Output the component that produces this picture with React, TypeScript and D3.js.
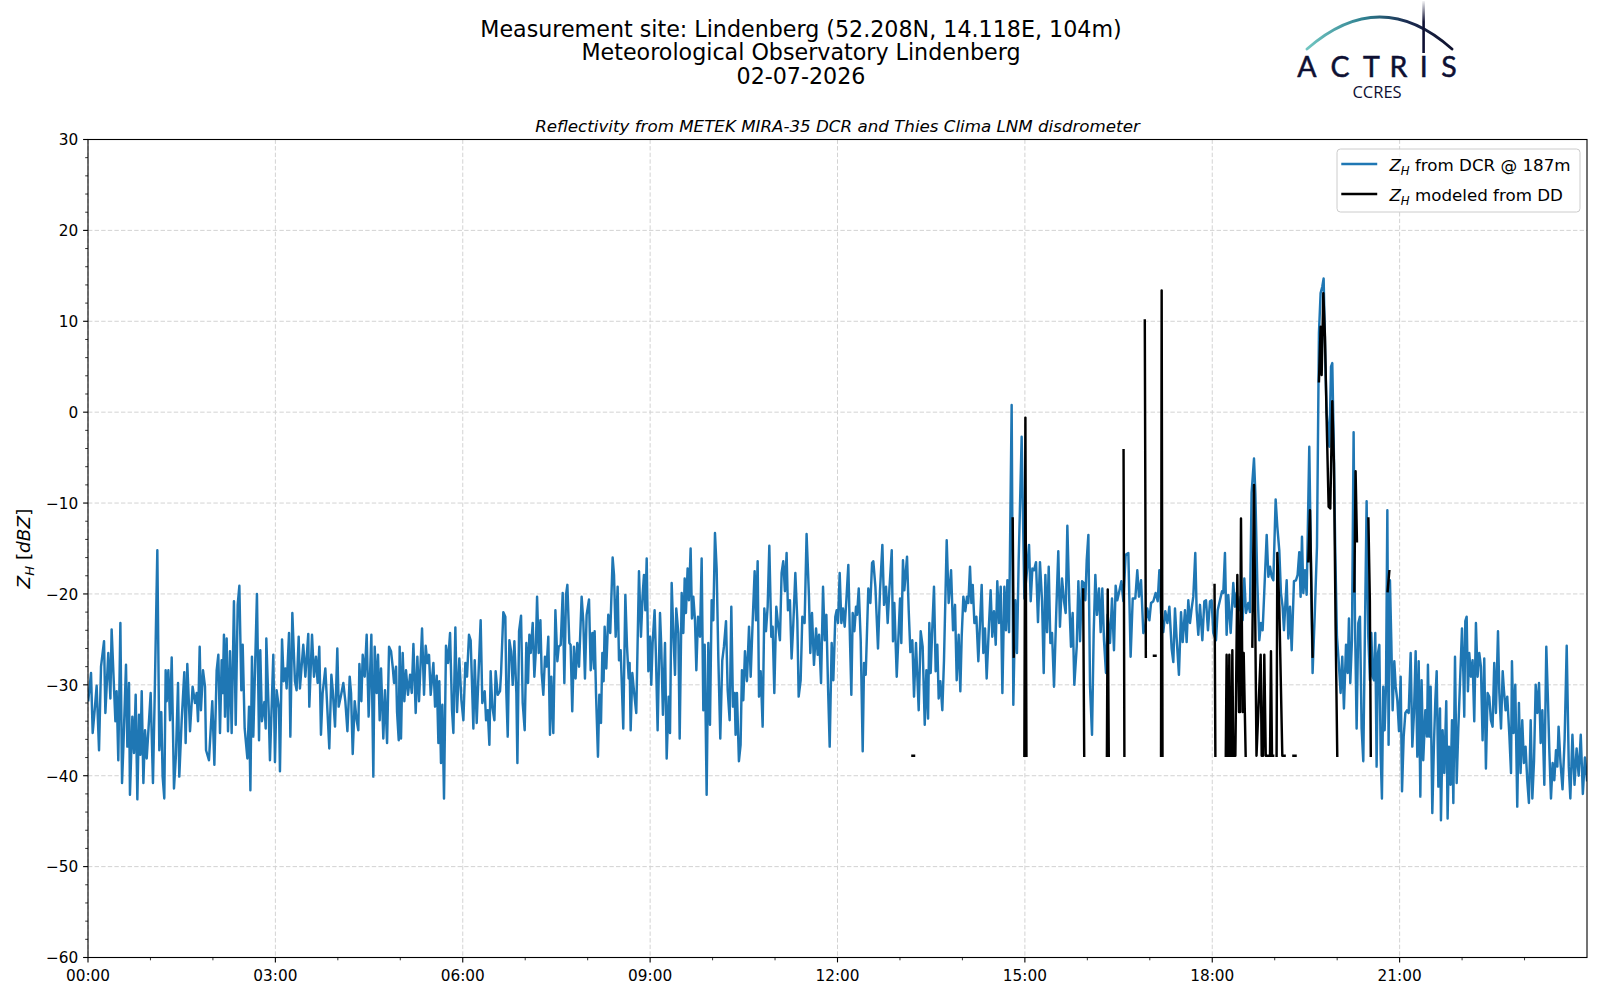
import React from 'react';
import * as d3 from 'd3';

const W = 1600;
const H = 1000;
const PLOT = { left: 88, right: 1587, top: 139.5, bottom: 957.5 };

const titleLines = [
  'Measurement site: Lindenberg (52.208N, 14.118E, 104m)',
  'Meteorological Observatory Lindenberg',
  '02-07-2026',
];
const subtitle = 'Reflectivity from METEK MIRA-35 DCR and Thies Clima LNM disdrometer';

const xMajorHours = [0, 3, 6, 9, 12, 15, 18, 21];
const xMajorLabels = ['00:00', '03:00', '06:00', '09:00', '12:00', '15:00', '18:00', '21:00'];
const xMinorHours = [1, 2, 4, 5, 7, 8, 10, 11, 13, 14, 16, 17, 19, 20, 22, 23];
const yMajor = [-60, -50, -40, -30, -20, -10, 0, 10, 20, 30];

// Z_H from DCR @ 187m : [minutes since 00:00, dBZ]
const dcrSeries: [number, number][] = [
  [0.3,-31.7],[2.9,-28.7],[4.5,-35.3],[6.7,-32.4],[8.3,-30.1],[10.6,-37.2],[12.5,-28.0],[15.4,-25.2],[16.7,-33.1],[19.5,-26.5],
  [21.5,-31.5],[22.7,-23.9],[26.3,-34.0],[27.5,-30.7],[29.1,-38.3],[31.1,-23.2],[32.7,-40.8],[34.0,-36.8],[36.5,-27.8],[37.8,-36.8],
  [39.4,-29.8],[40.3,-42.1],[42.6,-33.5],[44.2,-37.5],[45.8,-31.1],[47.4,-42.6],[49.0,-33.3],[50.3,-37.7],[51.6,-30.7],[53.2,-40.8],
  [54.8,-35.0],[56.4,-38.1],[60.2,-30.9],[62.4,-40.8],[64.0,-31.7],[66.6,-15.2],[68.5,-37.2],[70.4,-33.0],[71.7,-40.1],[73.3,-42.5],
  [74.6,-28.4],[75.6,-31.8],[77.2,-28.4],[78.8,-33.9],[80.4,-27.0],[82.6,-41.4],[84.5,-37.7],[86.5,-29.8],[87.7,-40.1],[90.0,-33.9],
  [92.5,-28.6],[93.8,-36.4],[95.4,-27.7],[98.0,-35.1],[100.5,-30.2],[102.8,-32.0],[104.4,-30.9],[105.7,-34.0],[107.3,-25.8],[108.5,-32.8],
  [110.5,-28.4],[112.4,-30.2],[113.4,-37.2],[116.2,-38.3],[119.4,-31.8],[121.4,-38.8],[123.6,-28.4],[125.2,-26.7],[126.8,-35.3],[128.4,-27.3],
  [129.4,-30.9],[130.6,-24.5],[131.6,-33.5],[133.2,-24.9],[134.5,-35.1],[136.4,-26.3],[138.0,-35.3],[140.2,-20.8],[141.9,-34.4],[143.8,-21.2],
  [145.4,-19.1],[147.3,-30.6],[148.6,-25.6],[150.5,-34.8],[153.1,-38.1],[154.7,-32.4],[156.0,-41.6],[157.5,-26.9],[158.8,-35.7],[162.3,-20.0],
  [164.3,-36.1],[165.5,-26.2],[167.1,-34.0],[169.4,-31.9],[170.7,-34.8],[171.3,-24.9],[173.6,-33.0],[174.8,-38.3],[178.0,-26.7],[179.6,-38.5],
  [181.2,-30.6],[183.5,-32.6],[184.4,-39.5],[186.4,-25.0],[188.0,-29.6],[189.6,-28.2],[190.8,-30.4],[193.1,-24.3],[194.4,-35.7],[196.3,-22.1],
  [198.8,-29.6],[200.4,-30.6],[202.4,-24.7],[203.6,-30.4],[206.8,-25.6],[208.8,-29.1],[211.6,-24.4],[212.6,-32.4],[215.2,-24.5],[217.1,-29.1],
  [219.0,-26.9],[220.6,-29.8],[222.2,-25.8],[223.8,-35.5],[225.4,-30.9],[228.0,-28.2],[231.8,-37.0],
  [233.8,-28.9],[235.1,-30.6],[237.3,-34.6],[239.5,-26.0],[240.8,-32.4],[242.8,-31.3],[245.3,-29.8],[247.2,-31.8],[249.2,-35.1],[251.4,-29.1],
  [252.7,-30.9],[254.3,-37.6],[256.2,-31.8],[258.1,-33.9],[259.7,-35.0],[260.7,-27.7],[262.6,-31.8],[263.9,-26.7],[265.8,-29.1],[267.7,-24.5],
  [269.6,-33.5],[272.2,-24.5],[274.1,-40.1],[275.4,-25.8],[277.3,-30.9],[278.6,-26.7],[280.2,-33.9],[281.5,-28.2],[283.7,-35.9],[285.3,-30.6],
  [287.3,-36.4],[289.2,-25.8],[291.1,-26.3],[292.7,-28.0],[294.0,-29.8],[295.9,-28.0],[296.9,-33.0],[298.5,-36.1],[299.4,-25.8],[300.7,-35.9],
  [302.3,-26.5],[303.9,-31.8],[305.5,-28.4],[307.4,-31.1],[309.4,-28.9],[311.0,-30.9],[312.6,-25.5],[314.8,-33.1],[316.4,-26.9],[318.0,-31.8],
  [320.9,-23.8],[322.8,-31.1],[324.4,-25.7],[326.0,-27.6],[327.6,-26.7],[329.2,-31.1],[331.8,-27.6],[333.4,-32.4],[335.0,-29.0],[336.6,-36.4],
  [337.5,-29.6],[339.1,-38.6],[340.4,-32.2],[342.0,-42.5],[343.9,-25.7],[345.9,-27.6],[347.8,-24.3],[349.7,-32.8],[351.0,-35.3],[352.9,-23.7],
  [354.5,-33.0],[356.7,-27.1],[358.7,-31.7],[360.6,-33.9],[362.5,-27.6],[364.1,-29.1],[366.0,-24.5],[367.6,-25.1],[370.2,-34.8],[371.5,-27.3],
  [373.4,-34.2],[375.3,-28.4],[377.2,-22.9],[378.8,-32.0],[381.1,-30.7],[382.4,-33.9],[384.0,-32.8],[385.6,-36.6],[386.8,-28.5],[388.4,-32.4],
  [390.4,-33.9],[391.6,-28.5],[393.6,-31.1],[395.8,-30.7],[396.8,-28.7],[399.0,-22.0],[400.9,-22.5],[401.9,-30.9],[403.2,-35.7],[404.8,-25.1],
  [406.4,-26.3],[408.0,-30.0],[409.6,-25.2],[411.5,-30.9],[412.5,-38.6],[414.1,-24.1],[416.0,-22.4],[417.6,-32.0],[419.5,-35.0],[421.1,-25.4],
  [422.7,-29.8],[424.0,-24.5],[425.3,-26.5],[427.2,-23.2],[428.8,-29.1],[430.1,-26.5],[431.4,-20.3],[433.0,-26.5],[434.6,-22.9],[435.8,-28.7],
  [437.4,-31.1],[439.0,-26.9],[440.6,-28.0],[442.2,-24.7],[443.8,-35.5],[445.1,-29.1],[447.0,-35.3],[449.0,-21.8],[450.9,-27.4],[452.2,-25.8],
  [454.1,-25.6],[456.0,-19.9],[457.6,-29.8],[459.2,-20.1],[460.5,-19.0],[462.4,-25.4],
  [463.6,-25.6],[465.2,-32.9],[466.8,-25.8],[468.4,-29.3],[470.0,-25.4],[471.7,-28.0],[474.2,-20.3],[475.8,-23.0],[477.4,-29.3],[479.0,-22.3],
  [481.3,-20.6],[482.9,-28.4],[484.5,-24.3],[486.1,-28.2],[486.7,-24.1],[488.0,-30.9],[489.9,-37.9],[491.2,-31.1],[492.8,-34.2],[494.1,-26.5],
  [495.3,-29.6],[496.3,-23.6],[497.9,-28.2],[499.8,-22.3],[501.7,-24.3],[504.0,-16.0],[505.3,-17.9],[506.9,-24.7],[508.8,-19.2],[510.1,-27.3],
  [511.7,-26.2],[514.2,-34.8],[516.2,-20.1],[517.8,-25.8],[519.4,-29.3],[520.3,-27.6],[521.3,-35.0],[522.9,-28.7],[524.5,-30.7],[526.7,-33.1],
  [529.3,-17.5],[531.2,-24.7],[532.8,-20.1],[534.1,-17.9],[535.4,-21.8],[536.7,-16.1],[538.3,-28.5],[539.9,-24.7],[541.1,-30.0],[542.4,-25.4],
  [544.3,-21.8],[545.6,-26.9],[547.2,-35.0],[549.5,-22.1],[550.7,-25.8],[552.3,-33.3],[554.3,-25.4],[555.9,-38.1],[557.8,-31.3],[559.1,-35.3],
  [560.7,-18.8],[562.3,-24.3],[563.9,-28.9],[565.1,-21.6],[567.1,-24.3],[568.4,-35.9],[570.3,-19.9],[571.9,-24.3],[573.2,-18.3],[574.4,-22.1],
  [576.0,-17.2],[577.3,-20.7],[578.9,-15.0],[580.2,-22.7],[581.5,-20.3],[583.1,-22.9],[584.4,-28.4],[586.0,-22.5],[587.9,-24.7],[589.5,-16.1],
  [591.1,-32.8],[592.4,-25.6],[594.3,-42.1],[595.9,-25.4],[597.5,-34.4],[599.1,-20.7],[600.7,-22.9],[602.3,-13.3],[603.9,-17.2],[605.5,-26.9],
  [607.4,-35.9],[609.3,-27.3],[610.9,-25.8],[612.9,-23.0],[614.5,-30.6],[616.4,-33.9],[618.0,-21.4],[619.6,-32.4],[621.2,-30.9],[622.1,-35.5],
  [623.4,-30.9],[625.3,-38.4],[626.9,-36.6],[628.2,-28.4],[629.5,-31.7],[631.1,-26.3],[633.0,-29.6],[635.0,-23.6],[636.6,-29.1],[638.5,-23.0],
  [640.4,-17.5],[641.7,-22.9],[643.3,-16.4],[644.6,-31.3],[646.2,-28.5],[648.1,-34.6],[649.7,-21.6],[651.3,-24.1],[652.9,-21.4],[654.5,-14.7],
  [656.4,-24.7],[657.7,-23.6],[659.3,-30.9],[661.2,-21.4],[663.1,-23.6],[664.7,-25.1],[666.3,-17.7],[667.9,-16.4],[669.5,-19.7],[671.1,-15.5],
  [672.4,-21.8],[674.3,-20.7],[675.9,-27.1],[677.5,-23.4],[679.5,-17.7],[681.4,-22.9],[682.7,-31.3],[684.6,-29.5],[686.2,-22.5],[688.4,-23.2],
  [690.3,-13.4],
  [692.6,-20.3],[693.9,-26.5],[695.5,-22.1],[697.4,-27.8],[699.4,-23.8],[701.0,-26.7],[702.3,-24.5],[704.2,-29.8],[706.1,-19.2],[707.7,-25.1],
  [709.3,-22.3],[710.9,-30.2],[712.5,-36.8],[714.4,-25.4],[716.0,-29.5],[717.9,-22.5],[719.2,-21.8],[720.5,-23.2],[722.1,-17.7],[723.7,-23.2],
  [725.3,-21.6],[726.9,-23.6],[728.5,-20.7],[730.4,-16.8],[732.0,-25.1],[733.3,-31.1],[734.6,-22.1],[736.2,-24.1],[737.8,-21.4],[738.8,-22.3],
  [740.4,-19.4],[742.3,-25.1],[744.2,-37.3],[745.5,-27.6],[747.1,-28.9],[749.6,-19.4],[751.6,-21.0],[753.2,-16.6],[754.4,-16.4],[756.4,-19.2],
  [758.9,-26.0],[760.8,-19.7],[763.1,-14.6],[764.7,-21.2],[766.6,-19.2],[768.2,-23.2],[769.8,-19.6],[772.1,-15.2],[773.3,-25.2],[774.6,-21.0],
  [776.9,-29.1],[778.8,-24.0],[780.1,-20.5],[781.3,-25.4],[782.9,-16.3],[784.2,-19.6],[786.8,-15.9],[788.4,-21.8],[790.0,-26.4],[791.9,-25.1],
  [793.5,-31.3],[795.4,-25.4],[798.0,-32.8],[799.9,-24.1],[801.8,-25.8],[803.8,-34.4],[805.4,-28.4],[807.0,-33.7],[808.2,-23.2],[809.5,-28.7],
  [810.8,-24.5],[812.7,-19.2],[814.3,-28.5],[815.9,-25.6],[817.2,-31.5],[818.8,-29.6],[820.7,-32.8],[822.3,-27.3],[824.9,-14.1],[826.8,-21.0],
  [829.1,-17.4],[831.0,-24.0],[832.9,-21.2],[834.5,-29.5],[836.4,-24.5],[838.0,-30.7],[839.3,-24.7],[840.9,-20.3],[842.8,-21.9],[844.4,-20.3],
  [845.7,-21.0],[847.3,-17.0],[848.6,-21.0],[849.9,-19.0],[851.5,-23.2],[853.4,-22.5],[855.3,-27.4],
  [858.5,-19.0],[860.1,-26.5],[861.7,-23.8],[863.3,-29.3],[865.5,-23.4],[867.1,-19.6],[868.7,-24.7],[870.3,-21.9],[872.0,-25.6],[873.5,-18.6],
  [875.2,-23.2],[876.8,-19.2],[878.4,-30.9],[880.3,-19.2],[881.9,-24.0],[883.2,-18.5],[884.8,-24.2],[887.3,0.8],[888.9,-32.2],[890.8,-20.7],
  [892.4,-26.5],[894.0,-16.6],[896.9,-2.7],[899.5,-20.5],[902.0,-17.5],[904.0,-14.6],[905.6,-20.8],[907.2,-17.2],[908.8,-17.4],[910.7,-16.5],
  [912.6,-23.1],[914.5,-16.5],[916.5,-20.8],[918.1,-28.7],[919.7,-17.9],[921.3,-24.2],[922.9,-17.0],[924.5,-25.4],[926.1,-24.3],[928.0,-30.2],
  [930.2,-21.8],[932.1,-15.3],[933.7,-23.6],[935.7,-18.3],[937.6,-20.8],[939.2,-22.1],[940.8,-12.5],[942.7,-21.0],[944.3,-25.8],[945.9,-22.1],
  [947.5,-30.0],[949.8,-25.8],[951.4,-18.6],[953.0,-25.2],[954.9,-18.6],[956.8,-18.8],[958.1,-20.7],[959.4,-16.3],[961.0,-13.5],[962.6,-30.2],
  [964.5,-35.5],[966.1,-24.3],[967.7,-17.9],[969.3,-22.3],[971.2,-19.4],[972.8,-24.2],[974.4,-19.4],[976.0,-25.1],[977.9,-28.7],[979.5,-22.3],
  [981.8,-25.4],[983.7,-20.5],[985.6,-26.2],[987.2,-19.1],[988.8,-20.7],[990.7,-19.7],[992.7,-18.6],[994.6,-20.8],[996.8,-15.7],[999.4,-15.5],
  [1001.6,-26.9],[1003.6,-20.5],[1006.1,-20.5],[1008.0,-17.4],[1009.6,-20.3],[1011.6,-18.5],[1013.8,-24.3],[1015.7,-23.6],[1017.6,-21.6],[1019.6,-22.9],
  [1021.2,-21.0],[1023.4,-20.8],[1025.6,-19.9],[1027.6,-20.8],[1029.2,-17.4],[1030.8,-22.1],[1033.0,-24.2],[1034.9,-21.9],[1036.9,-23.2],[1038.8,-21.4],
  [1041.0,-26.0],[1042.6,-27.5],[1044.2,-21.6],[1045.8,-24.9],[1048.0,-28.9],[1050.0,-22.0],[1051.6,-25.3],[1053.8,-21.8],[1055.4,-25.3],[1057.0,-20.7],
  [1058.6,-23.2],[1060.2,-21.6],[1061.8,-20.3],[1063.7,-15.5],[1065.0,-21.8],[1066.6,-24.5],[1068.2,-21.2],[1070.5,-25.1],[1072.4,-20.8],[1074.0,-20.7],
  [1075.9,-24.0],[1077.8,-20.8],[1079.4,-20.7],[1081.0,-24.3],[1083.6,-25.1],[1085.2,-21.8],[1087.4,-20.7],[1089.4,-19.7],[1090.6,-19.9],[1092.2,-15.5],
  [1093.8,-24.5],[1095.4,-20.1],[1097.7,-24.3],[1100.2,-18.8],[1101.8,-21.4],[1103.4,-19.9],[1105.7,-21.8],[1107.3,-20.3],[1109.2,-22.9],[1110.8,-18.3],
  [1112.4,-22.1],[1114.6,-21.0],[1116.2,-22.0],[1117.8,-8.9],[1120.1,-5.1],[1121.4,-8.9],[1123.3,-18.8],[1125.2,-25.1],[1126.8,-23.2],[1128.4,-24.0],
  [1130.0,-19.7],[1132.3,-13.5],[1133.9,-18.1],[1135.5,-17.0],[1137.1,-18.1],[1138.7,-18.5],[1140.9,-9.6],[1142.5,-12.6],[1144.4,-15.2],[1146.0,-19.9],
  [1147.6,-21.4],[1148.9,-24.0],[1151.5,-18.5],[1153.1,-24.9],[1154.7,-21.4],[1156.3,-26.2],[1158.5,-18.6],[1160.4,-18.5],[1162.0,-17.9],[1163.6,-15.4],
  [1164.9,-20.3],[1166.2,-13.7],[1167.5,-19.9],[1169.1,-17.4],[1170.7,-20.1],[1173.2,-3.8],[1174.8,-16.3],[1176.4,-28.7],[1178.4,-22.5],[1180.6,-14.8],
  [1182.5,8.7],[1184.1,13.1],[1185.7,13.8],[1187.0,14.7],[1188.6,5.7],[1189.9,-0.1],[1192.5,-3.8],[1194.1,5.0],[1195.3,5.4],[1196.6,-2.7],
  [1198.2,-15.5],[1199.8,-24.7],[1201.4,-27.3],[1203.3,-30.9],[1204.9,-26.9],[1206.5,-32.6],[1208.5,-25.6],[1210.1,-28.7],[1211.3,-22.7],[1212.6,-29.8],
  [1214.2,-25.1],[1215.8,-2.2],
  [1217.1,-22.9],[1218.7,-34.8],[1220.3,-23.2],[1221.9,-22.5],[1223.5,-34.8],[1225.1,-38.4],[1226.7,-23.8],[1228.3,-9.8],[1229.9,-24.7],[1231.5,-29.5],
  [1232.8,-24.3],[1234.1,-29.1],[1235.4,-29.5],[1236.6,-24.3],[1237.9,-39.0],[1239.2,-26.5],[1240.5,-25.6],[1241.8,-37.7],[1243.0,-42.5],[1244.3,-30.2],
  [1245.6,-35.0],[1246.9,-30.2],[1248.2,-10.8],[1249.4,-36.6],[1250.7,-18.5],[1252.0,-25.1],[1253.3,-32.8],[1254.9,-27.4],[1256.2,-30.2],[1257.8,-31.7],
  [1259.4,-35.1],[1261.0,-29.1],[1262.3,-41.7],[1263.9,-35.7],[1265.5,-33.1],[1267.1,-32.8],[1268.7,-33.1],[1270.6,-26.5],[1272.2,-36.8],[1273.8,-33.1],
  [1275.4,-26.3],[1277.0,-37.9],[1278.3,-27.4],[1279.9,-42.3],[1281.1,-29.5],[1282.7,-38.3],[1284.7,-32.8],[1286.3,-35.7],[1287.2,-27.8],[1288.5,-35.7],
  [1289.8,-30.2],[1291.4,-44.1],[1293.0,-36.4],[1294.3,-31.7],[1295.6,-28.5],[1297.2,-41.2],[1298.8,-32.6],[1299.7,-44.9],[1301.3,-35.0],[1302.9,-39.7],
  [1304.8,-31.8],[1306.1,-44.7],[1307.4,-36.8],[1309.0,-41.0],[1310.3,-33.9],[1311.6,-43.0],[1313.2,-26.9],[1314.8,-40.8],[1316.4,-34.8],[1318.0,-29.8],
  [1319.9,-23.8],[1321.2,-28.7],[1322.1,-33.5],[1323.1,-23.0],[1324.4,-22.5],[1325.6,-30.7],[1326.9,-26.5],[1328.5,-29.1],[1330.1,-27.3],[1331.7,-34.0],
  [1333.3,-23.2],[1334.9,-29.1],[1336.5,-26.5],[1338.1,-28.0],[1339.7,-36.1],[1341.3,-27.1],[1342.9,-39.2],[1344.5,-30.9],[1346.1,-31.3],[1347.7,-33.9],
  [1349.3,-34.6],[1350.9,-27.6],[1352.5,-33.1],[1354.5,-24.1],[1355.8,-30.9],[1357.4,-34.8],[1359.0,-28.5],[1360.2,-30.6],[1361.8,-32.8],[1363.4,-31.3],
  [1365.4,-35.5],[1367.0,-39.7],[1367.9,-27.4],[1369.5,-35.3],[1371.1,-30.0],[1373.0,-43.4],[1374.6,-32.0],[1376.2,-39.7],[1377.8,-33.9],[1379.4,-38.6],
  [1381.0,-36.8],[1382.6,-40.5],[1384.2,-43.0],[1385.9,-33.9],[1387.5,-42.5],[1389.1,-38.4],[1390.7,-30.0],[1392.3,-33.1],[1393.9,-29.8],[1395.5,-36.4],
  [1397.1,-32.8],[1399.0,-41.0],[1400.9,-25.8],[1402.5,-31.7],[1403.8,-37.2],[1405.4,-42.5],[1407.0,-38.6],[1408.6,-40.5],[1410.2,-37.2],[1411.5,-39.0],
  [1412.7,-34.6],[1414.5,-38.5],[1416.5,-41.5],[1418.5,-36.0],[1420.5,-25.7],[1422.5,-39.0],[1424.0,-42.5],[1426.0,-35.5],[1428.0,-41.0],[1430.0,-37.0],
  [1432.0,-40.0],[1434.0,-35.5],[1436.0,-42.0],[1438.0,-38.0],[1440.0,-40.5],
];

// Z_H modeled from DD : [minutes since 00:00, dBZ or null for no data]
const ddSeries: [number, number | null][] = [
  [792.0,-37.8],[793.5,-37.8],[794.0,null],
  [888.3,-11.7],[889.3,-26.9],[890.0,null],
  [899.5,-37.8],[900.5,-0.6],[901.5,-37.8],[902.0,null],
  [956.0,-19.5],[957.0,-37.8],[957.5,null],
  [978.8,-37.8],[979.6,-19.5],[980.6,-37.8],[981.0,null],
  [994.8,-4.2],[995.6,-37.8],[996.0,null],
  [1015.2,10.1],[1016.2,-26.9],[1017.0,null],
  [1024.0,-26.8],[1025.5,-26.8],[1026.0,null],
  [1030.8,-37.8],[1031.4,13.4],[1032.2,-37.8],[1033.0,null],
  [1082.2,-19.0],[1083.0,-37.8],[1084.0,null],
  [1093.0,-37.8],[1093.8,-26.7],[1094.8,-37.8],[1095.8,-37.8],[1096.4,-26.7],[1097.2,-37.8],[1098.5,-37.8],[1099.3,-26.2],[1100.2,-37.8],
  [1102.2,-37.8],[1104.1,-17.9],[1105.7,-33.0],[1106.6,-33.0],[1107.6,-11.7],[1109.2,-33.0],[1110.2,-26.5],[1112.1,-37.8],[1113.0,null],
  [1118.5,-25.8],[1120.1,-8.0],[1122.5,-37.8],[1126.5,-26.7],[1127.5,-37.8],[1128.8,-37.8],[1130.0,-26.7],[1131.4,-37.8],[1134.0,-37.8],[1134.5,null],
  [1135.5,-37.8],[1136.4,-26.3],[1137.4,-37.8],[1138.5,-37.8],[1139.0,null],
  [1141.8,-37.8],[1142.5,-15.5],[1144.4,-21.4],[1147.3,-37.8],[1149.5,-37.8],[1150.0,null],
  [1158.0,-37.8],[1160.0,-37.8],[1160.5,null],
  [1172.3,-16.4],[1173.9,-10.8],[1176.4,-26.9],[1177.0,null],
  [1182.5,3.4],[1184.1,9.4],[1185.1,4.1],[1186.7,13.1],[1188.3,8.3],[1189.9,-0.9],[1191.8,-10.4],[1193.4,-10.6],[1195.3,1.2],[1196.9,-5.6],
  [1198.5,-23.6],[1200.1,-37.8],[1201.0,null],
  [1216.5,-19.7],[1217.7,-6.5],[1219.0,-14.2],[1219.5,null],
  [1230.0,-11.7],[1231.4,-20.7],[1232.3,-37.8],[1233.0,null],
  [1248.5,-19.7],[1250.1,-17.5],
];

const legendItems = [
  { color: '#1f77b4', text: ' from DCR @ 187m' },
  { color: '#000000', text: ' modeled from DD' },
];

const logoLetters = ['A', 'C', 'T', 'R', 'I', 'S'];

const FONT = "'DejaVu Sans', sans-serif";
const NAVY = '#0e1033';
const LW = 2.45;

export default function App() {
  const x = d3.scaleLinear().domain([0, 1440]).range([PLOT.left, PLOT.right]);
  const y = d3.scaleLinear().domain([-60, 30]).range([PLOT.bottom, PLOT.top]);
  const yMinor = d3.range(-60, 31, 2).filter((v) => v % 10 !== 0);
  const letterX = d3.scalePoint<string>().domain(logoLetters).range([1307, 1449]);
  const letterPos: Record<string, number> = { A: 1307, C: 1340, T: 1371.5, R: 1398.5, I: 1423.7, S: 1449 };

  const blueLine = d3
    .line<[number, number]>()
    .x((d) => x(d[0]))
    .y((d) => y(d[1]));
  const blackLine = d3
    .line<[number, number | null]>()
    .defined((d) => d[1] !== null)
    .x((d) => x(d[0]))
    .y((d) => y(d[1] as number));

  const gridColor = '#d3d3d3';
  const tickFs = 15.3;

  return (
    <div style={{ position: 'absolute', left: 0, top: 0 }}>
      <svg width={W} height={H} xmlns="http://www.w3.org/2000/svg" style={{ display: 'block', background: '#fff' }}>
        <defs>
          <clipPath id="plotClip">
            <rect x={PLOT.left} y={PLOT.top} width={PLOT.right - PLOT.left} height={PLOT.bottom - PLOT.top} />
          </clipPath>
          <linearGradient id="arcGrad" x1={1306} y1={0} x2={1451} y2={0} gradientUnits="userSpaceOnUse">
            <stop offset="0" stopColor="#72c7c2" />
            <stop offset="0.4" stopColor="#2f8090" />
            <stop offset="0.7" stopColor="#1b2b50" />
            <stop offset="1" stopColor="#10122e" />
          </linearGradient>
          <linearGradient id="vGrad" x1={0} y1={1} x2={0} y2={53} gradientUnits="userSpaceOnUse">
            <stop offset="0" stopColor={NAVY} stopOpacity="0.05" />
            <stop offset="0.4" stopColor={NAVY} stopOpacity="1" />
            <stop offset="1" stopColor={NAVY} stopOpacity="1" />
          </linearGradient>
        </defs>
        <rect x={0} y={0} width={W} height={H} fill="#fff" />

        {/* titles */}
        {titleLines.map((t, i) => (
          <text key={t} x={801} y={37 + i * 23.3} textAnchor="middle" fontFamily={FONT} fontSize={22.2} fill="#000">
            {t}
          </text>
        ))}
        <text x={(PLOT.left + PLOT.right) / 2} y={132} textAnchor="middle" fontFamily={FONT} fontSize={16.7} fontStyle="italic" fill="#000">
          {subtitle}
        </text>

        {/* logo */}
        <g>
          <path d="M1307,49 Q1380,-15 1452,49" fill="none" stroke="url(#arcGrad)" strokeWidth={2.8} strokeLinecap="round" />
          <line x1={1423.6} x2={1423.6} y1={1} y2={53} stroke="url(#vGrad)" strokeWidth={2.6} />
          {logoLetters.map((ch) => (
            <text
              key={ch}
              x={letterPos[ch] ?? letterX(ch)}
              y={77.3}
              textAnchor="middle"
              fontFamily="Lato, 'Open Sans', sans-serif"
              fontSize={28.5}
              fill={NAVY}
              stroke={NAVY}
              strokeWidth={0.5}
            >
              {ch}
            </text>
          ))}
          <text x={1377} y={98.3} textAnchor="middle" fontFamily="'Open Sans', Lato, sans-serif" fontSize={16.5} fill={NAVY}>
            CCRES
          </text>
        </g>

        {/* grid */}
        <g stroke={gridColor} strokeWidth={1} strokeDasharray="4.4,2.2">
          {xMajorHours.map((h) => (
            <line key={'gx' + h} x1={x(h * 60)} x2={x(h * 60)} y1={PLOT.top} y2={PLOT.bottom} />
          ))}
          {yMajor.map((v) => (
            <line key={'gy' + v} x1={PLOT.left} x2={PLOT.right} y1={y(v)} y2={y(v)} />
          ))}
        </g>

        {/* data */}
        <g clipPath="url(#plotClip)">
          <path d={blueLine(dcrSeries) || ''} fill="none" stroke="#1f77b4" strokeWidth={LW} strokeLinejoin="round" strokeLinecap="square" />
          <path d={blackLine(ddSeries) || ''} fill="none" stroke="#000" strokeWidth={LW} strokeLinejoin="round" strokeLinecap="square" />
        </g>

        {/* spines */}
        <rect x={PLOT.left} y={PLOT.top} width={PLOT.right - PLOT.left} height={PLOT.bottom - PLOT.top} fill="none" stroke="#000" strokeWidth={1.1} />

        {/* ticks */}
        <g stroke="#000" strokeWidth={1.1}>
          {xMajorHours.map((h) => (
            <line key={'xt' + h} x1={x(h * 60)} x2={x(h * 60)} y1={PLOT.bottom} y2={PLOT.bottom + 4.9} />
          ))}
          {xMinorHours.map((h) => (
            <line key={'xm' + h} x1={x(h * 60)} x2={x(h * 60)} y1={PLOT.bottom} y2={PLOT.bottom + 2.8} strokeWidth={0.8} />
          ))}
          {yMajor.map((v) => (
            <line key={'yt' + v} x1={PLOT.left - 4.9} x2={PLOT.left} y1={y(v)} y2={y(v)} />
          ))}
          {yMinor.map((v) => (
            <line key={'ym' + v} x1={PLOT.left - 2.8} x2={PLOT.left} y1={y(v)} y2={y(v)} strokeWidth={0.8} />
          ))}
        </g>
        <g fontFamily={FONT} fontSize={tickFs} fill="#000">
          {xMajorHours.map((h, i) => (
            <text key={'xl' + h} x={x(h * 60)} y={PLOT.bottom + 23} textAnchor="middle">
              {xMajorLabels[i]}
            </text>
          ))}
          {yMajor.map((v) => (
            <text key={'yl' + v} x={PLOT.left - 9.8} y={y(v) + 5.8} textAnchor="end">
              {v < 0 ? '\u2212' + Math.abs(v) : String(v)}
            </text>
          ))}
        </g>

        {/* y label */}
        <text transform={`translate(29.5,${(PLOT.top + PLOT.bottom) / 2}) rotate(-90)`} textAnchor="middle" fontFamily={FONT} fontSize={18.5} fill="#000">
          <tspan fontStyle="italic">Z</tspan>
          <tspan fontStyle="italic" fontSize={13} dy={4}>H</tspan>
          <tspan dy={-4}> [</tspan>
          <tspan fontStyle="italic">dBZ</tspan>
          <tspan>]</tspan>
        </text>

        {/* legend */}
        <g>
          <rect x={1337} y={149} width={243} height={63} rx={3.5} ry={3.5} fill="#fff" fillOpacity={0.8} stroke="#cccccc" strokeWidth={1} />
          {legendItems.map((it, i) => {
            const cy = 164 + i * 30;
            return (
              <g key={it.text}>
                <line x1={1342.5} x2={1376} y1={cy} y2={cy} stroke={it.color} strokeWidth={LW} strokeLinecap="square" />
                <text x={1389.4} y={cy + 6.5} fontFamily={FONT} fontSize={16.7} fill="#000">
                  <tspan fontStyle="italic">Z</tspan>
                  <tspan fontStyle="italic" fontSize={11.7} dy={4}>H</tspan>
                  <tspan dy={-4}>{it.text}</tspan>
                </text>
              </g>
            );
          })}
        </g>
      </svg>
    </div>
  );
}
